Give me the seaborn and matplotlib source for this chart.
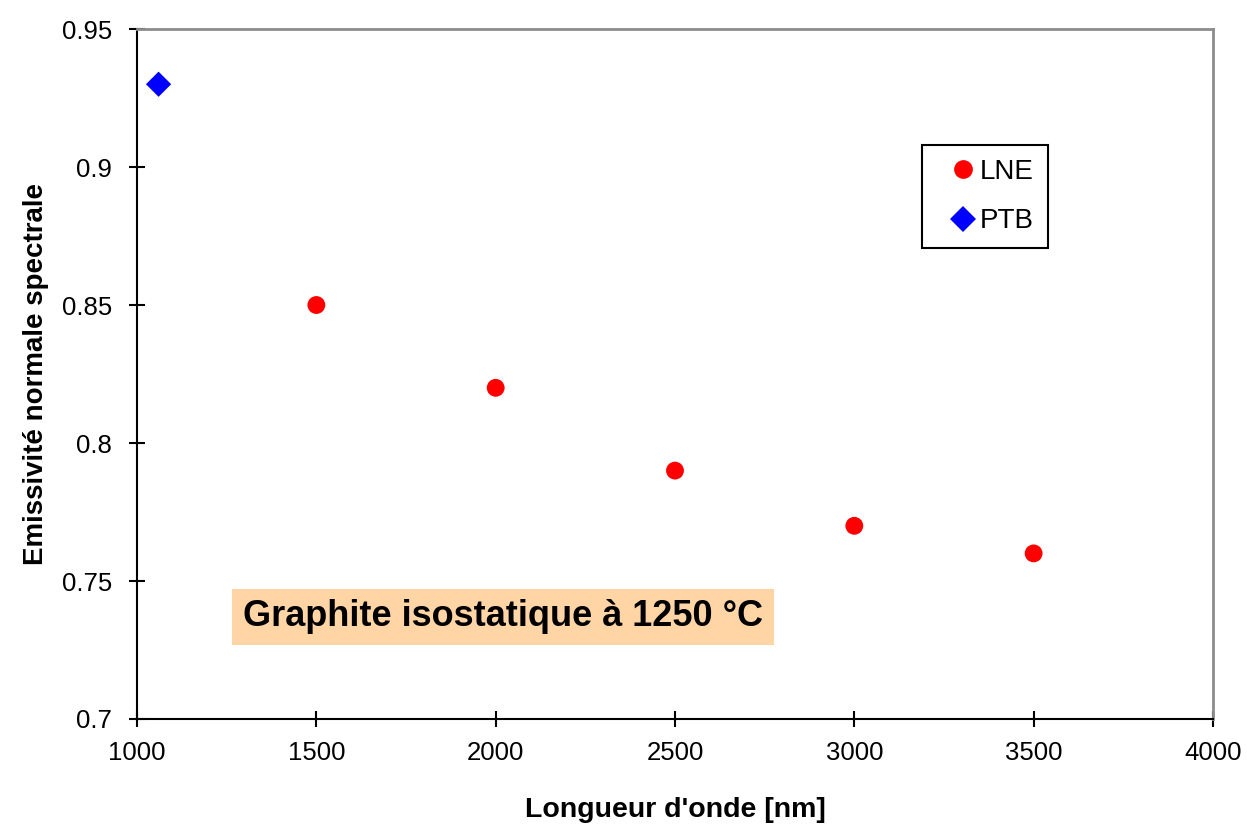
import pandas as pd
import seaborn as sns
import matplotlib.pyplot as plt

lne_wavelength = [1500, 2000, 2500, 3000, 3500]
lne_emissivity = [0.85, 0.82, 0.79, 0.77, 0.76]
ptb_wavelength = [1060]
ptb_emissivity = [0.93]

df = pd.DataFrame({
    "wavelength": lne_wavelength + ptb_wavelength,
    "emissivity": lne_emissivity + ptb_emissivity,
    "lab": ["LNE"] * len(lne_wavelength) + ["PTB"] * len(ptb_wavelength),
})

sns.set_style("white")
plt.rcParams["font.family"] = ["Liberation Sans", "DejaVu Sans"]
plt.rcParams["text.color"] = "black"
plt.rcParams["axes.labelcolor"] = "black"
plt.rcParams["xtick.color"] = "black"
plt.rcParams["ytick.color"] = "black"

fig = plt.figure(figsize=(12.47, 8.27), dpi=100)
ax = fig.add_axes([0.1099, 0.1306, 0.8628, 0.8343])

sns.scatterplot(
    data=df, x="wavelength", y="emissivity", hue="lab", style="lab",
    palette={"LNE": "#ff0000", "PTB": "#0000ff"},
    markers={"LNE": "o", "PTB": "D"},
    s=165, linewidth=0, ax=ax,
)

ax.set_xlim(1000, 4000)
ax.set_ylim(0.7, 0.95)
ax.set_xticks([1000, 1500, 2000, 2500, 3000, 3500, 4000])
ax.set_yticks([0.7, 0.75, 0.8, 0.85, 0.9, 0.95])
ax.set_yticklabels(["0.7", "0.75", "0.8", "0.85", "0.9", "0.95"])
ax.tick_params(axis="both", direction="inout", length=12, width=1.5,
               labelsize=18.5, colors="black", bottom=True, left=True)
ax.tick_params(axis="x", pad=10)
ax.tick_params(axis="y", pad=12)

for side in ["left", "bottom"]:
    ax.spines[side].set_color("black")
    ax.spines[side].set_linewidth(1.5)
for side in ["top", "right"]:
    ax.spines[side].set_color("#8c8c8c")
    ax.spines[side].set_linewidth(2)

ax.set_xlabel("Longueur d'onde [nm]", fontsize=20.5, fontweight="bold", labelpad=23)
ax.set_ylabel("Emissivité normale spectrale", fontsize=20, fontweight="bold", labelpad=9)

leg = ax.legend(loc="upper left", bbox_to_anchor=(0.7296, 0.832), fontsize=20,
                frameon=True, fancybox=False, edgecolor="black", framealpha=1,
                borderaxespad=0, handlelength=1.95, handletextpad=-0.36,
                borderpad=0.5, labelspacing=0.85, markerscale=1.05)
leg.get_frame().set_linewidth(1.5)

ax.text(2020, 0.737, "Graphite isostatique à 1250 °C", fontsize=26, fontweight="bold",
        ha="center", va="center",
        bbox=dict(boxstyle="square,pad=0.3", facecolor="#ffd5a6", edgecolor="none"))

fig.savefig("out.png", dpi=100)
